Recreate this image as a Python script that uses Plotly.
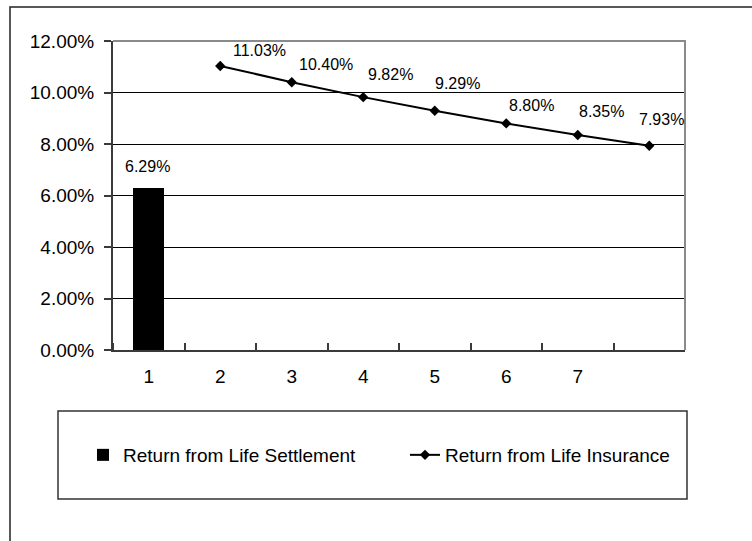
import plotly.graph_objects as go

# Category positions (1..8); only 1..7 carry a label on the axis
categories = [1, 2, 3, 4, 5, 6, 7, 8]
tick_labels = ["1", "2", "3", "4", "5", "6", "7"]

settlement_x = [1]
settlement_return = [0.0629]

insurance_x = [2, 3, 4, 5, 6, 7, 8]
insurance_return = [0.1103, 0.1040, 0.0982, 0.0929, 0.0880, 0.0835, 0.0793]

# label nudges in pixels (dx right, dy up) for the line's value labels
label_dx = [39, 34, 27, 23, 25, 24, 12]
label_dy = [15, 18, 23, 27, 18, 23, 26]

W, H = 752, 541
L, R, T, B = 113, 685, 41, 350  # plot area in pixels


def px(x):
    return (x - L) / (R - L)


def py(y):
    return (B - y) / (B - T)


FONT = "Arial, Liberation Sans, sans-serif"
AXIS_COLOR = "#3a3a3a"

fig = go.Figure()

fig.add_trace(go.Bar(
    x=settlement_x, y=settlement_return,
    name="Return from Life Settlement",
    marker=dict(color="black", line=dict(width=0)),
    width=0.44,
    legendwidth=277,
))

fig.add_trace(go.Scatter(
    x=insurance_x, y=insurance_return,
    name="Return from Life Insurance",
    mode="lines+markers",
    line=dict(color="black", width=2),
    marker=dict(symbol="diamond", size=8, color="black"),
))

annotations = []
for x, v in zip(settlement_x, settlement_return):
    annotations.append(dict(
        x=x, y=v, xref="x", yref="y", text=f"{v * 100:.2f}%",
        showarrow=False, font=dict(family=FONT, size=16, color="black"),
        xanchor="center", yanchor="middle", xshift=-1, yshift=22,
    ))
for x, v, dx, dy in zip(insurance_x, insurance_return, label_dx, label_dy):
    annotations.append(dict(
        x=x, y=v, xref="x", yref="y", text=f"{v * 100:.2f}%",
        showarrow=False, font=dict(family=FONT, size=16, color="black"),
        xanchor="center", yanchor="middle", xshift=dx, yshift=dy,
    ))

shapes = [
    # outer chart frame (runs off the right and bottom edges)
    dict(type="rect", xref="paper", yref="paper",
         x0=px(10), x1=px(W + 20), y0=py(H + 20), y1=py(7),
         line=dict(color="#222222", width=1.5), layer="below"),
    # plot-area border on the top and right sides
    dict(type="path", xref="paper", yref="paper",
         path=f"M {px(L)},{py(T)} L {px(R)},{py(T)} L {px(R)},{py(B)}",
         line=dict(color="#8a8a8a", width=2), layer="above"),
    # legend frame
    dict(type="rect", xref="paper", yref="paper",
         x0=px(58), x1=px(687), y0=py(499), y1=py(411),
         line=dict(color="#333333", width=1.5), layer="below"),
]

fig.update_layout(
    width=W, height=H,
    margin=dict(l=L, r=W - R, t=T, b=H - B, pad=0),
    paper_bgcolor="white", plot_bgcolor="white",
    font=dict(family=FONT, size=19, color="black"),
    showlegend=True,
    legend=dict(
        orientation="h", x=px(83), y=py(455),
        xanchor="left", yanchor="middle",
        font=dict(family=FONT, size=19, color="black"),
        bgcolor="rgba(0,0,0,0)", borderwidth=0,
    ),
    annotations=annotations,
    shapes=shapes,
    bargap=0,
)

fig.update_xaxes(
    range=[0.5, 8.5],
    tickmode="array", tickvals=categories[:len(tick_labels)], ticktext=tick_labels,
    ticks="", ticklabelstandoff=8,
    tickfont=dict(family=FONT, size=19, color="black"),
    showgrid=False, zeroline=False,
    showline=True, linecolor=AXIS_COLOR, linewidth=2,
    minor=dict(tick0=0.5, dtick=1, ticks="inside", ticklen=7,
               tickcolor=AXIS_COLOR, tickwidth=1.5, showgrid=False),
    fixedrange=True,
)

fig.update_yaxes(
    range=[0, 0.12], dtick=0.02, tick0=0, tickformat=".2%",
    ticks="outside", ticklen=7, tickcolor=AXIS_COLOR, tickwidth=1.5,
    ticklabelstandoff=6,
    tickfont=dict(family=FONT, size=19, color="black"),
    showgrid=True, gridcolor="black", gridwidth=1,
    zeroline=False,
    showline=True, linecolor=AXIS_COLOR, linewidth=2,
    fixedrange=True,
)

fig.write_html("out.html")
